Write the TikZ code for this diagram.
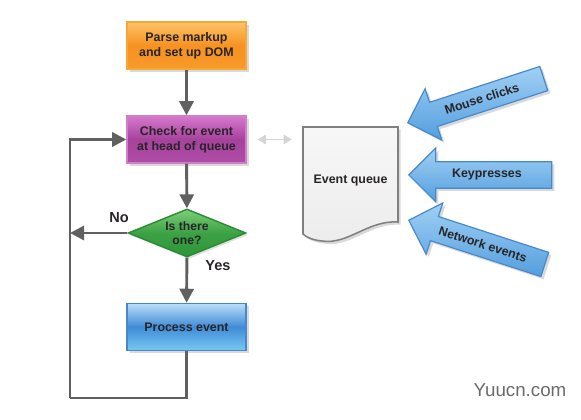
\documentclass[tikz,border=0pt]{standalone}
\usepackage{fontspec}
\setmainfont{Liberation Sans}
\usepackage{tikz}
\usetikzlibrary{arrows.meta,positioning,calc,shapes.geometric,shapes.arrows,shadows}
\definecolor{flowgray}{RGB}{96,96,96}
\definecolor{linkgray}{RGB}{212,212,212}
\definecolor{inkdark}{RGB}{40,36,40}
\definecolor{orangetop}{RGB}{253,196,104}
\definecolor{orangemid}{RGB}{246,146,32}
\definecolor{orangeline}{RGB}{246,168,54}
\definecolor{purpletop}{RGB}{214,120,204}
\definecolor{purplemid}{RGB}{166,66,156}
\definecolor{purpleline}{RGB}{206,128,198}
\definecolor{greentop}{RGB}{126,206,120}
\definecolor{greenmid}{RGB}{44,150,56}
\definecolor{greenline}{RGB}{40,140,50}
\definecolor{bluetop}{RGB}{184,222,248}
\definecolor{bluemid}{RGB}{64,140,214}
\definecolor{bluebot}{RGB}{120,200,242}
\definecolor{blueline}{RGB}{70,136,204}
\definecolor{arrowtop}{RGB}{160,208,244}
\definecolor{arrowbot}{RGB}{84,158,222}
\definecolor{docfill}{RGB}{236,236,236}
\definecolor{docline}{RGB}{128,128,128}

\tikzset{
  flowbox/.style={rectangle, line width=1.2pt, text=inkdark, align=center,
    font=\fontsize{10.6}{12.5}\selectfont\bfseries,
    minimum width=35.7mm, minimum height=14.1mm, inner sep=0pt,
    drop shadow={shadow xshift=0.8mm, shadow yshift=-0.8mm, opacity=0.3}},
  parsebox/.style={flowbox, draw=orangeline, top color=orangetop, bottom color=orangemid!85!orangetop, middle color=orangemid},
  checkbox/.style={flowbox, draw=purpleline, top color=purpletop, bottom color=purplemid!80!purpletop, middle color=purplemid},
  processbox/.style={flowbox, draw=blueline, top color=bluetop, bottom color=bluebot, middle color=bluemid},
  decidebox/.style={diamond, draw=greenline, line width=1.2pt, text=inkdark, align=center,
    font=\fontsize{10.4}{11.5}\selectfont\bfseries, aspect=2.45, inner sep=0pt,
    minimum width=35.4mm, minimum height=14.4mm,
    top color=greentop, bottom color=greenmid, middle color=greenmid!80!greentop,
    drop shadow={shadow xshift=0.6mm, shadow yshift=-0.6mm, opacity=0.25}},
  eventarrow/.style={single arrow, shape border rotate=180, anchor=tip,
    draw=blueline, line width=1pt, text=inkdark,
    font=\fontsize{10.6}{12.5}\selectfont\bfseries,
    inner xsep=0pt, inner ysep=2.1mm,
    minimum height=42.9mm, minimum width=16.2mm,
    single arrow head extend=4.1mm, single arrow tip angle=90,
    top color=arrowtop, bottom color=arrowbot,
    drop shadow={shadow xshift=0.8mm, shadow yshift=-0.8mm, opacity=0.3}},
  flow/.style={draw=flowgray, line width=2.5pt,
    -{Triangle[length=12pt, width=12pt]}},
  answer/.style={font=\fontsize{12.4}{14}\selectfont\bfseries, text=inkdark}
}

\begin{document}
\begin{tikzpicture}[x=0.3mm, y=-0.3mm]
  \useasboundingbox (0,0) rectangle (581,420);

  % main loop
  \node[parsebox] (parse) at (186.5,45.5) {Parse markup\\and set up DOM};
  \node[checkbox] (check) at (186.5,139.5) {Check for event\\at head of queue};
  \node[decidebox] (decide) at (187,233) {Is there\\one?};
  \node[processbox] (process) at (186.5,327) {Process event};
  \coordinate (loop) at (70,398);

  \draw[flow] (parse) -- (check);
  \draw[flow] (check) -- (decide);
  \draw[flow] (decide) -- (process);
  \draw[flow, -] (process.south) |- (loop);
  \draw[flow] (loop) |- (check.west);
  \draw[flow] (decide.west) -- (decide.west -| loop);
  \node[answer] (no) at (119,218) {No};
  \node[answer] (yes) at (218,266) {Yes};

  % event queue document
  \draw[docline, line width=1.3pt, top color=docfill!40, bottom color=docfill,
    drop shadow={shadow xshift=0.8mm, shadow yshift=-0.8mm, opacity=0.3}]
    (303,127) -- (398,127) -- (398,222)
    .. controls (368,220) and (348,245) .. (322,241)
    .. controls (312,240) and (306,237) .. (303,234) -- cycle;
  \node[text=inkdark, font=\fontsize{10.6}{12.5}\selectfont\bfseries,
    minimum width=28.5mm] (queue) at (350.5,181) {Event queue};
  \draw[linkgray, line width=1.7pt, shorten <=3.3mm, shorten >=3.3mm,
    {Triangle[length=7pt, width=8pt]}-{Triangle[length=7pt, width=8pt]}]
    (check.east) -- (queue.west |- check.east);

  % incoming events
  \node[eventarrow, rotate=18] (mouse) at (407,123) {Mouse clicks};
  \node[eventarrow] (keys) at (408,175) {Keypresses};
  \node[eventarrow, rotate=-18] (network) at (408,220) {Network events};

  \node[text=black!58, font=\fontsize{16}{18}\selectfont] (mark) at (520,390) {Yuucn.com};
\end{tikzpicture}
\end{document}
